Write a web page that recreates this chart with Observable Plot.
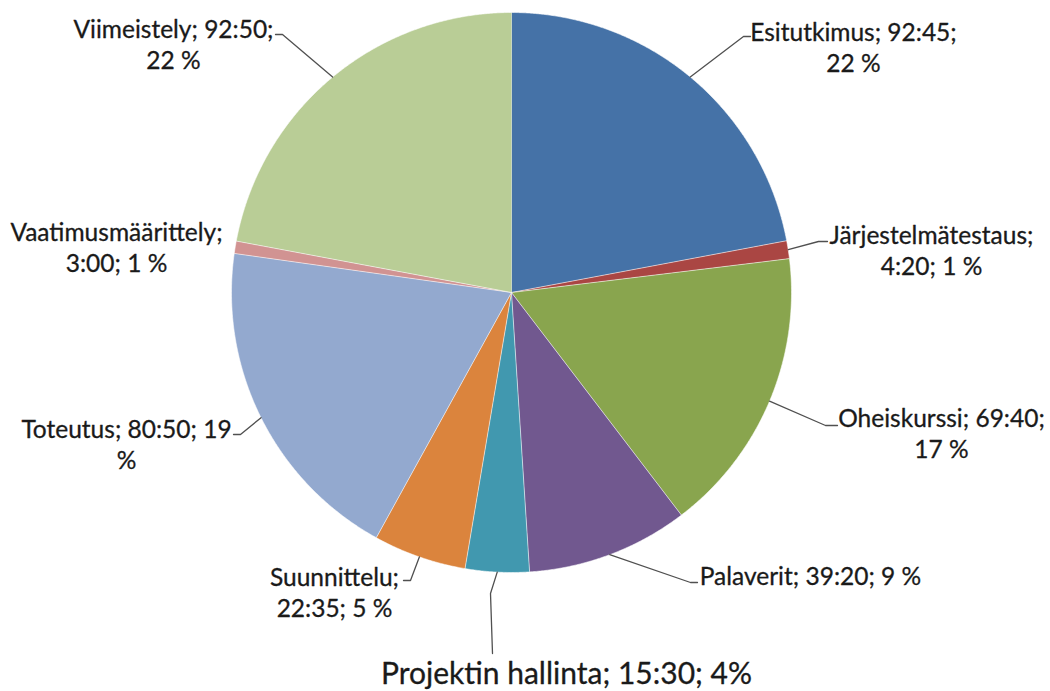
<!DOCTYPE html>
<html><head><meta charset="utf-8">
<script src="https://cdn.jsdelivr.net/npm/d3@7"></script>
<script src="https://cdn.jsdelivr.net/npm/@observablehq/plot@0.6"></script>
<style>html,body{margin:0;padding:0;background:#fff}#chart svg{display:block}</style>
</head><body><div id="chart"></div>
<script>
// ---- data ----
const categories = ["Esitutkimus","Järjestelmätestaus","Oheiskurssi","Palaverit","Projektin hallinta","Suunnittelu","Toteutus","Vaatimusmäärittely","Viimeistely"];
const durations  = ["92:45","4:20","69:40","39:20","15:30","22:35","80:50","3:00","92:50"];
const percents   = ["22 %","1 %","17 %","9 %","4%","5 %","19 %","1 %","22 %"];
const labelTexts = [
  "Esitutkimus; 92:45;\n22 %",
  "Järjestelmätestaus;\n4:20; 1 %",
  "Oheiskurssi; 69:40;\n17 %",
  "Palaverit; 39:20; 9 %",
  "Projektin hallinta; 15:30; 4%",
  "Suunnittelu;\n22:35; 5 %",
  "Toteutus; 80:50; 19\n%",
  "Vaatimusmäärittely;\n3:00; 1 %",
  "Viimeistely; 92:50;\n22 %"
];
const colors = ["#4572A7","#AA4643","#89A54E","#71588F","#4198AF","#DB843D","#93A9CF","#D19392","#B9CD96"];

// ---- layout (pixels in the 1050x691 frame) ----
const W = 1050, H = 691, CX = 511, CY = 292, R = 280;
const labelLayout = [
  {tx: 853, ty: 46,  pts: [[743,36],[750,36]]},
  {tx: 931, ty: 249, pts: [[818,241],[827,241]]},
  {tx: 941, ty: 432, pts: [[825,425],[837,425]]},
  {tx: 810, ty: 574, pts: [[690,582],[697,582]]},
  {tx: 566, ty: 674, pts: [[490,593],[492,653]]},
  {tx: 334, ty: 591, pts: [[410,580],[403,580]]},
  {tx: 126, ty: 443, pts: [[240,434],[233,434]]},
  {tx: 116, ty: 246, pts: null},
  {tx: 173, ty: 43,  pts: [[282,34],[275,34]]}
];
const toX = px => (px - CX) / R, toY = py => (CY - py) / R;

// ---- derived ----
const rows = categories.map((name, i) => {
  const [h, m] = durations[i].split(":").map(Number);
  return {name, minutes: h * 60 + m, pct: percents[i], label: labelTexts[i], i};
});
const arcs = d3.pie().sort(null).value(d => d.minutes)(rows);

const slicePts = [];
arcs.forEach(a => {
  const n = Math.max(3, Math.ceil((a.endAngle - a.startAngle) / 0.005));
  slicePts.push({name: a.data.name, x: 0, y: 0});
  for (let k = 0; k <= n; k++) {
    const t = a.startAngle + (a.endAngle - a.startAngle) * k / n;
    slicePts.push({name: a.data.name, x: Math.sin(t), y: Math.cos(t)});
  }
});

const leaderPts = [];
const labelRows = [];
arcs.forEach((a, i) => {
  const L = labelLayout[i];
  const mid = (a.startAngle + a.endAngle) / 2;
  if (L.pts) {
    leaderPts.push({name: a.data.name, x: Math.sin(mid), y: Math.cos(mid)});
    L.pts.forEach(([px, py]) => leaderPts.push({name: a.data.name, x: toX(px), y: toY(py)}));
  }
  labelRows.push({name: a.data.name, text: a.data.label, x: toX(L.tx), y: toY(L.ty), big: a.data.name === "Projektin hallinta"});
});

const font = "Lato, 'Open Sans', sans-serif";
const chart = Plot.plot({
  width: W, height: H,
  marginTop: 0, marginRight: 0, marginBottom: 0, marginLeft: 0,
  x: {domain: [toX(0), toX(W)], axis: null},
  y: {domain: [toY(H), toY(0)], axis: null},
  color: {domain: categories, range: colors},
  style: {background: "#fff", fontFamily: font},
  marks: [
    Plot.line(slicePts, {x: "x", y: "y", z: "name", fill: "name", stroke: "#fff", strokeWidth: 0.8, strokeOpacity: 0.7, curve: "linear"}),
    Plot.line(leaderPts, {x: "x", y: "y", z: "name", stroke: "#505050", strokeWidth: 1.3, curve: "linear"}),
    Plot.text(labelRows.filter(d => !d.big), {x: "x", y: "y", text: "text", fontSize: 24.5, lineHeight: 1.28, fill: "#1a1a1a", textAnchor: "middle", fontFamily: font, stroke: "#1a1a1a", strokeWidth: 0.3}),
    Plot.text(labelRows.filter(d => d.big), {x: "x", y: "y", text: "text", fontSize: 30, fill: "#1a1a1a", textAnchor: "middle", fontFamily: font, stroke: "#1a1a1a", strokeWidth: 0.3})
  ]
});
document.getElementById("chart").appendChild(chart);
</script>
</body></html>
